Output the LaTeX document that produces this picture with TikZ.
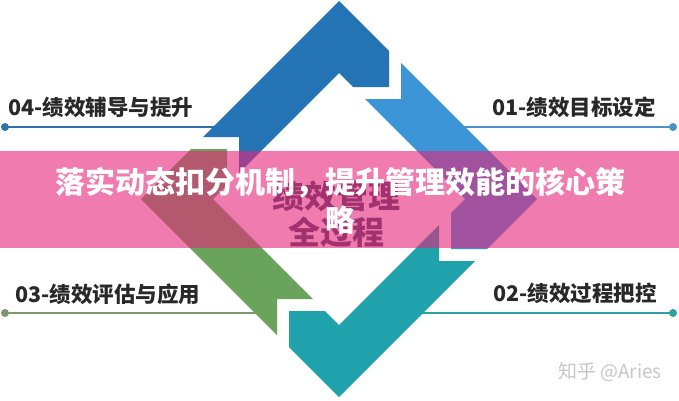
\documentclass[tikz,border=0pt]{standalone}
\usepackage{fontspec}
\newfontfamily\cjk{Noto Sans CJK SC}
\definecolor{cblue}{RGB}{35,115,181}
\definecolor{clight}{RGB}{58,148,214}
\definecolor{cteal}{RGB}{32,162,172}
\definecolor{cgreen}{RGB}{106,163,92}
\definecolor{lblue}{RGB}{50,112,168}
\definecolor{llight}{RGB}{74,145,200}
\definecolor{lgreen}{RGB}{124,154,110}
\definecolor{lteal}{RGB}{45,163,160}
\definecolor{banner}{RGB}{230,38,122}
\definecolor{labeltext}{RGB}{40,40,40}
\definecolor{centertext}{RGB}{60,70,96}
\tikzset{
  labeltxt/.style={inner sep=0pt, font=\cjk\bfseries\fontsize{21.5}{24}\selectfont, text=labeltext},
  guide/.style={line width=2.4pt},
  enddot/.style={circle, inner sep=0pt, minimum size=8pt},
}
\begin{document}
\begin{tikzpicture}[x=1pt,y=-1pt]
\useasboundingbox (0,0) rectangle (679,400);
\fill[white] (0,0) rectangle (679,400);

% guide lines with end dots
\coordinate (l4a) at (5,127);   \coordinate (l4b) at (235,127);
\coordinate (l1a) at (445,127); \coordinate (l1b) at (673,127);
\coordinate (l3a) at (5,313);   \coordinate (l3b) at (265,313);
\coordinate (l2a) at (415,313); \coordinate (l2b) at (673,313);
\draw[guide, lblue] (l4a) -- (l4b);
\draw[guide, llight] (l1a) -- (l1b);
\draw[guide, lgreen] (l3a) -- (l3b);
\draw[guide, lteal] (l2a) -- (l2b);
\node[enddot, fill=lblue] (d4) at (l4a) {};
\node[enddot, fill=llight] (d1) at (l1b) {};
\node[enddot, fill=lgreen] (d3) at (l3a) {};
\node[enddot, fill=lteal] (d2) at (l2b) {};

% labels
\node[labeltxt, anchor=west] (t4) at (8,107) {04-绩效辅导与提升};
\node[labeltxt, anchor=east] (t1) at (656,107) {01-绩效目标设定};
\node[labeltxt, anchor=west] (t3) at (15,294) {03-绩效评估与应用};
\node[labeltxt, anchor=east] (t2) at (657,293) {02-绩效过程把控};

% four chevron arrows
\begin{scope}[shift={(339,199)}]
\fill[cblue] (0,-198) -- (50,-148) -- (50,-112) -- (14,-112) -- (0,-126)
  -- (-100,-26) -- (-100,-62) -- (-136,-62) -- cycle;
\fill[clight] (198,0) -- (148,50) -- (112,50) -- (112,14) -- (126,0)
  -- (26,-100) -- (62,-100) -- (62,-136) -- cycle;
\fill[cteal] (0,198) -- (-50,148) -- (-50,112) -- (-14,112) -- (0,126)
  -- (100,26) -- (100,62) -- (136,62) -- cycle;
\fill[cgreen] (-198,0) -- (-148,-50) -- (-112,-50) -- (-112,-14) -- (-126,0)
  -- (-26,100) -- (-62,100) -- (-62,136) -- cycle;
\end{scope}

% centre title
\node[inner sep=0pt, align=center, text=centertext,
  font=\cjk\bfseries\fontsize{32}{36}\selectfont] (center) at (336,214) {绩效管理\\全过程};

% watermark
\node[inner sep=0pt, anchor=east, text=black!22,
  font=\cjk\fontsize{19}{22}\selectfont] (wm) at (662,372) {知乎 @Aries};

% pink banner
\fill[banner, opacity=0.6] (0,151) rectangle (679,248);
\node[inner sep=0pt, align=center, text=white,
  font=\cjk\bfseries\fontsize{30}{38}\selectfont] (title) at (340,201)
  {落实动态扣分机制，提升管理效能的核心策\\略};
\end{tikzpicture}
\end{document}
